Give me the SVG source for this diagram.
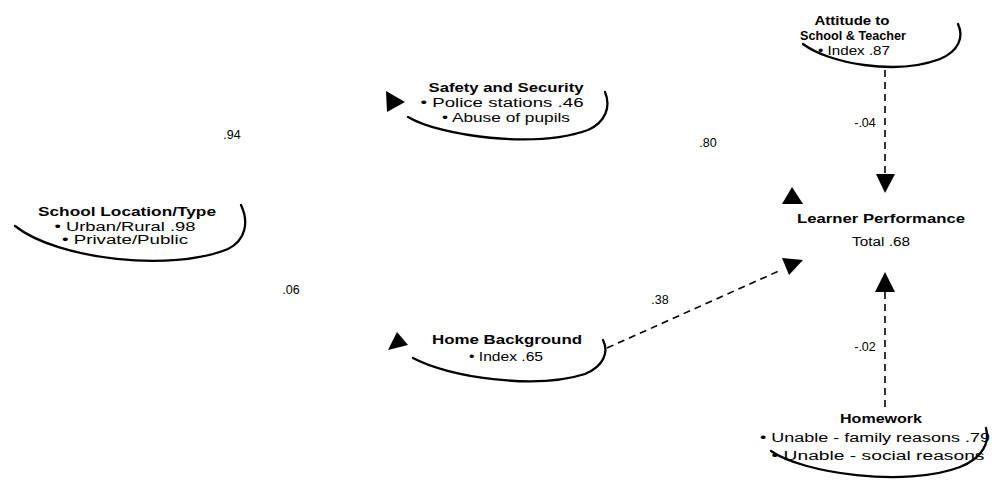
<svg xmlns="http://www.w3.org/2000/svg" width="992" height="481" viewBox="0 0 992 481">
<style>
text{font-family:"Liberation Sans","DejaVu Sans",sans-serif;fill:#000;text-anchor:middle}
.t{font-size:13px;font-weight:bold}
.b{font-size:12.5px}
.l{font-size:12.5px}
.arc{fill:none;stroke:#000;stroke-width:2.3;stroke-linecap:round}
.dash{fill:none;stroke:#000;stroke-width:1.6;stroke-dasharray:7 5}
.head{fill:#000}
</style>
<rect width="992" height="481" fill="#fff"/>
<g id="school">
<path class="arc" d="M15,226 C58,260 172,272 228,249 C246,240 249,222 241,205"/>
<text class="t" x="127" y="216" textLength="178" lengthAdjust="spacingAndGlyphs">School Location/Type</text>
<text class="b" x="125" y="231" textLength="141" lengthAdjust="spacingAndGlyphs">• Urban/Rural .98</text>
<text class="b" x="125" y="244" textLength="126" lengthAdjust="spacingAndGlyphs">• Private/Public</text>
</g>
<g id="safety">
<path class="arc" d="M408,117 C440,136 535,149 588,130 C606,122 611,106 605,92"/>
<text class="t" x="506" y="92" textLength="155" lengthAdjust="spacingAndGlyphs">Safety and Security</text>
<text class="b" x="502" y="107" textLength="163" lengthAdjust="spacingAndGlyphs">• Police stations .46</text>
<text class="b" x="506" y="122" textLength="128" lengthAdjust="spacingAndGlyphs">• Abuse of pupils</text>
</g>
<g id="attitude">
<path class="arc" d="M803,44 C828,63 895,76 940,59 C959,51 964,37 958,24"/>
<text class="t" x="852" y="25" textLength="75" lengthAdjust="spacingAndGlyphs">Attitude to</text>
<text class="t" x="853" y="40" textLength="106" lengthAdjust="spacingAndGlyphs">School &amp; Teacher</text>
<text class="b" x="854" y="55" textLength="72" lengthAdjust="spacingAndGlyphs">• Index .87</text>
</g>
<g id="learner">
<text class="t" x="881" y="223" textLength="168" lengthAdjust="spacingAndGlyphs">Learner Performance</text>
<text class="b" x="881" y="246" textLength="58" lengthAdjust="spacingAndGlyphs">Total .68</text>
</g>
<g id="home">
<path class="arc" d="M413,358 C448,377 535,390 585,374 C604,366 609,352 603,340"/>
<text class="t" x="507" y="344" textLength="150" lengthAdjust="spacingAndGlyphs">Home Background</text>
<text class="b" x="506" y="361" textLength="74" lengthAdjust="spacingAndGlyphs">• Index .65</text>
</g>
<g id="homework">
<path class="arc" d="M771,451 C802,473 905,488 960,467 C983,458 990,442 986,428"/>
<text class="t" x="881" y="423" textLength="82" lengthAdjust="spacingAndGlyphs">Homework</text>
<text class="b" x="875" y="442" textLength="230" lengthAdjust="spacingAndGlyphs">• Unable - family reasons .79</text>
<text class="b" x="878" y="460" textLength="213" lengthAdjust="spacingAndGlyphs">• Unable - social reasons</text>
</g>
<g id="connectors">
<path class="dash" d="M885,70 L885,175"/>
<path class="dash" d="M885,292 L885,412"/>
<path class="dash" d="M607,348 L781,270"/>
<polygon class="head" points="386,91 405,102 387,112"/>
<polygon class="head" points="388,350 397,332 408,345"/>
<polygon class="head" points="792,187 782,204 803,204"/>
<polygon class="head" points="876,174 895,174 885,193"/>
<polygon class="head" points="782,258 803,260 789,275"/>
<polygon class="head" points="885,272 875,292 895,292"/>
<text class="l" x="232" y="139">.94</text>
<text class="l" x="291" y="294">.06</text>
<text class="l" x="708" y="147">.80</text>
<text class="l" x="660" y="304">.38</text>
<text class="l" x="865" y="127">-.04</text>
<text class="l" x="865" y="351">-.02</text>
</g>
</svg>
